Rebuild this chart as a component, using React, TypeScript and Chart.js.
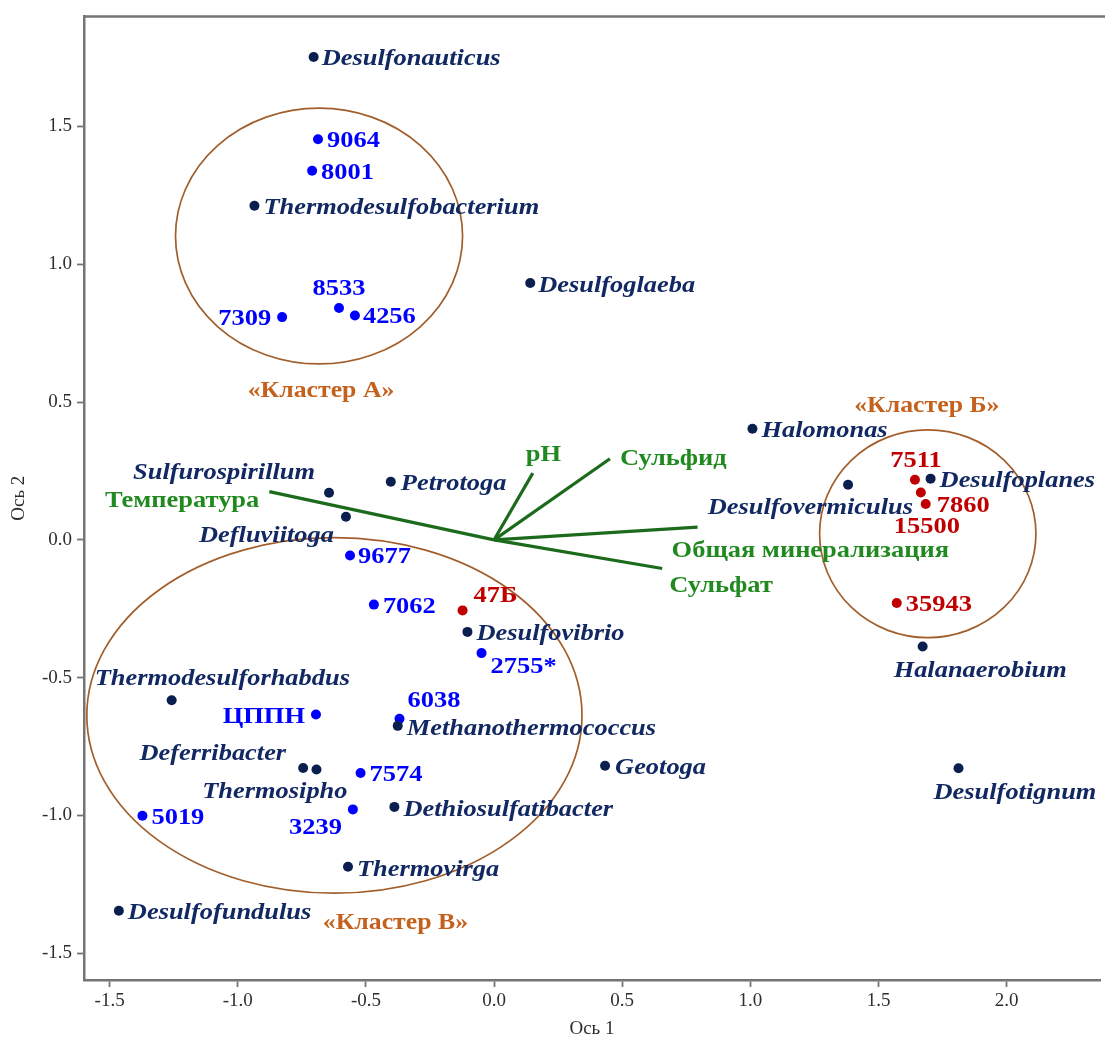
import { useEffect, useRef } from "react";
import { Chart, registerables } from "chart.js";

Chart.register(...registerables);

// Reference genera (ordination scores on axes 1 and 2)
const genusNames = [
  "Desulfonauticus", "Thermodesulfobacterium", "Desulfoglaeba", "Halomonas", "Desulfoplanes",
  "Desulfovermiculus", "Sulfurospirillum", "Petrotoga", "Defluviitoga", "Desulfovibrio",
  "Halanaerobium", "Thermodesulforhabdus", "Methanothermococcus", "Geotoga", "Deferribacter",
  "Thermosipho", "Desulfotignum", "Dethiosulfatibacter", "Thermovirga", "Desulfofundulus",
];
const genusAxis1 = [
  -0.704, -0.935, 0.141, 1.008, 1.703,
  1.381, -0.644, -0.403, -0.578, -0.104,
  1.672, -1.258, -0.376, 0.433, -0.745,
  -0.693, 1.812, -0.389, -0.570, -1.464,
];
const genusAxis2 = [
  1.752, 1.212, 0.932, 0.403, 0.222,
  0.200, 0.171, 0.211, 0.084, -0.334,
  -0.387, -0.582, -0.675, -0.820, -0.828,
  -0.833, -0.829, -0.969, -1.186, -1.346,
];

// Samples (blue)
const sampleNames = ["9064", "8001", "8533", "4256", "7309", "9677", "7062", "2755*", "6038", "ЦППН", "7574", "3239", "5019"];
const sampleAxis1 = [-0.687, -0.710, -0.605, -0.543, -0.827, -0.562, -0.469, -0.049, -0.369, -0.695, -0.521, -0.551, -1.372];
const sampleAxis2 = [1.453, 1.339, 0.841, 0.814, 0.808, -0.057, -0.235, -0.411, -0.649, -0.634, -0.846, -0.978, -1.001];

// Samples (red)
const brineNames = ["47Б", "7511", "15500", "7860", "35943"];
const brineAxis1 = [-0.123, 1.642, 1.665, 1.684, 1.571];
const brineAxis2 = [-0.256, 0.218, 0.172, 0.130, -0.229];

// Environmental factor vectors
const factorNames = ["Температура", "pH", "Сульфид", "Общая минерализация", "Сульфат"];
const factorAxis1 = [-0.877, 0.151, 0.452, 0.794, 0.656];
const factorAxis2 = [0.175, 0.242, 0.294, 0.046, -0.104];

// Cluster outlines (centre and radii in axis units)
const clusterNames = ["«Кластер А»", "«Кластер Б»", "«Кластер В»"];
const clusterCenter1 = [-0.683, 1.692, -0.623];
const clusterCenter2 = [1.102, 0.022, -0.637];
const clusterRadius1 = [0.560, 0.422, 0.966];
const clusterRadius2 = [0.464, 0.377, 0.645];

// Axis ticks
const xTickValues = [-1.5, -1.0, -0.5, 0.0, 0.5, 1.0, 1.5, 2.0];
const yTickValues = [-1.5, -1.0, -0.5, 0.0, 0.5, 1.0, 1.5];
const xTitle = "Ось 1";
const yTitle = "Ось 2";

// ---- styling ----
const SERIF = '"Liberation Serif", "Times New Roman", serif';
const NAVY_DOT = "#0b1f4e";
const NAVY_TEXT = "#112862";
const BLUE = "#0000ff";
const RED = "#c00000";
const GREEN_TEXT = "#208a20";
const GREEN_LINE = "#1c6b1c";
const ORANGE = "#c4611c";
const ELLIPSE = "#a15e2a";
const AXIS = "#747474";
const TICK_TEXT = "#2e2e2e";

type Place = [number, number, CanvasTextAlign];

// label offsets in pixels from the marker: [dx, dy, align]
const genusPlace: Record<string, Place> = {
  Desulfonauticus: [8, 0, "left"],
  Thermodesulfobacterium: [9, 0, "left"],
  Desulfoglaeba: [8, 1, "left"],
  Halomonas: [9, 0, "left"],
  Desulfoplanes: [9, 0, "left"],
  Desulfovermiculus: [65, 21, "right"],
  Sulfurospirillum: [-14, -22, "right"],
  Petrotoga: [10, 0, "left"],
  Defluviitoga: [-12, 17, "right"],
  Desulfovibrio: [9, 0, "left"],
  Halanaerobium: [-29, 22, "left"],
  Thermodesulforhabdus: [-77, -23, "left"],
  Methanothermococcus: [9, 1, "left"],
  Geotoga: [10, 0, "left"],
  Deferribacter: [-17, -16, "right"],
  Thermosipho: [31, 20, "right"],
  Desulfotignum: [-25, 22, "left"],
  Dethiosulfatibacter: [9, 1, "left"],
  Thermovirga: [9, 1, "left"],
  Desulfofundulus: [9, 0, "left"],
};
const samplePlace: Record<string, Place> = {
  "9064": [9, 0, "left"],
  "8001": [9, 0, "left"],
  "8533": [0, -21, "center"],
  "4256": [8, 0, "left"],
  "7309": [-11, 0, "right"],
  "9677": [8, 0, "left"],
  "7062": [9, 0, "left"],
  "2755*": [9, 12, "left"],
  "6038": [8, -20, "left"],
  "ЦППН": [-11, 0, "right"],
  "7574": [9, 0, "left"],
  "3239": [-11, 17, "right"],
  "5019": [9, 0, "left"],
};
const brinePlace: Record<string, Place> = {
  "47Б": [11, -16, "left"],
  "7511": [1, -21, "center"],
  "15500": [6, 33, "center"],
  "7860": [11, 0, "left"],
  "35943": [9, 0, "left"],
};
const factorPlace: Record<string, Place> = {
  "Температура": [-10, 7, "right"],
  pH: [-7, -20, "left"],
  "Сульфид": [10, -2, "left"],
  "Общая минерализация": [-26, 22, "left"],
  "Сульфат": [7, 16, "left"],
};
// cluster captions relative to the ellipse centre
const clusterPlace: Record<string, [number, number]> = {
  "«Кластер А»": [2, 153],
  "«Кластер Б»": [-1, -130],
  "«Кластер В»": [61, 206],
};

const pts = (xs: number[], ys: number[]) => xs.map((x, i) => ({ x, y: ys[i] }));

// visual centring of the glyphs relative to the em box
const TEXT_SHIFT = 2;

function drawLabel(
  ctx: CanvasRenderingContext2D,
  text: string,
  x: number,
  y: number,
  font: string,
  color: string,
  align: CanvasTextAlign,
  stretch: number
) {
  ctx.save();
  ctx.translate(x, y + TEXT_SHIFT);
  ctx.scale(stretch, 1);
  ctx.font = font;
  ctx.fillStyle = color;
  ctx.textAlign = align;
  ctx.textBaseline = "middle";
  ctx.fillText(text, 0, 0);
  ctx.restore();
}

const annotations = {
  id: "ordinationAnnotations",
  beforeDatasetsDraw(chart: any) {
    const { ctx, scales } = chart;
    const xs = scales.x;
    const ys = scales.y;
    ctx.save();
    ctx.strokeStyle = ELLIPSE;
    ctx.lineWidth = 1.7;
    clusterNames.forEach((_, i) => {
      const cx = xs.getPixelForValue(clusterCenter1[i]);
      const cy = ys.getPixelForValue(clusterCenter2[i]);
      const rx = Math.abs(xs.getPixelForValue(clusterCenter1[i] + clusterRadius1[i]) - cx);
      const ry = Math.abs(ys.getPixelForValue(clusterCenter2[i] + clusterRadius2[i]) - cy);
      ctx.beginPath();
      ctx.ellipse(cx, cy, rx, ry, 0, 0, Math.PI * 2);
      ctx.stroke();
    });
    ctx.restore();
  },
  afterDatasetsDraw(chart: any) {
    const { ctx, scales, chartArea } = chart;
    const xs = scales.x;
    const ys = scales.y;

    const labelSet = (
      names: string[],
      a1: number[],
      a2: number[],
      place: Record<string, Place>,
      font: string,
      color: string,
      stretch: number
    ) => {
      names.forEach((name, i) => {
        const px = xs.getPixelForValue(a1[i]);
        const py = ys.getPixelForValue(a2[i]);
        const [dx, dy, align] = place[name];
        drawLabel(ctx, name, px + dx, py + dy, font, color, align, stretch);
      });
    };

    labelSet(genusNames, genusAxis1, genusAxis2, genusPlace, `italic bold 24px ${SERIF}`, NAVY_TEXT, 1.1);
    labelSet(sampleNames, sampleAxis1, sampleAxis2, samplePlace, `bold 23px ${SERIF}`, BLUE, 1.15);
    labelSet(brineNames, brineAxis1, brineAxis2, brinePlace, `bold 23px ${SERIF}`, RED, 1.15);
    labelSet(factorNames, factorAxis1, factorAxis2, factorPlace, `bold 23px ${SERIF}`, GREEN_TEXT, 1.15);

    clusterNames.forEach((name, i) => {
      const cx = xs.getPixelForValue(clusterCenter1[i]);
      const cy = ys.getPixelForValue(clusterCenter2[i]);
      const [dx, dy] = clusterPlace[name];
      drawLabel(ctx, name, cx + dx, cy + dy, `bold 23px ${SERIF}`, ORANGE, "center", 1.12);
    });

    // top frame line
    ctx.save();
    ctx.strokeStyle = AXIS;
    ctx.lineWidth = 2.5;
    ctx.beginPath();
    ctx.moveTo(chartArea.left - 1, chartArea.top);
    ctx.lineTo(chart.width, chartArea.top);
    ctx.stroke();
    ctx.restore();
  },
};

export default function App() {
  const canvasRef = useRef<HTMLCanvasElement | null>(null);

  useEffect(() => {
    if (!canvasRef.current) return;

    const vectorSets = factorNames.map((name, i) => ({
      label: name,
      data: [
        { x: 0, y: 0 },
        { x: factorAxis1[i], y: factorAxis2[i] },
      ],
      showLine: true,
      borderColor: GREEN_LINE,
      borderWidth: 3.2,
      pointRadius: 0,
      fill: false,
    }));

    const chart = new Chart(canvasRef.current, {
      type: "scatter",
      data: {
        datasets: [
          ...vectorSets,
          {
            label: "genera",
            data: pts(genusAxis1, genusAxis2),
            backgroundColor: NAVY_DOT,
            borderWidth: 0,
            pointRadius: 5,
          },
          {
            label: "samples",
            data: pts(sampleAxis1, sampleAxis2),
            backgroundColor: BLUE,
            borderWidth: 0,
            pointRadius: 5,
          },
          {
            label: "brine",
            data: pts(brineAxis1, brineAxis2),
            backgroundColor: RED,
            borderWidth: 0,
            pointRadius: 5,
          },
        ] as any,
      },
      options: {
        animation: false,
        responsive: false,
        events: [],
        layout: { padding: { top: 15, right: 1, left: 0, bottom: 0 } },
        plugins: {
          legend: { display: false },
          tooltip: { enabled: false },
        },
        scales: {
          x: {
            type: "linear",
            min: -1.6,
            max: 2.364,
            afterBuildTicks: (s: any) => {
              s.ticks = xTickValues.map((v) => ({ value: v }));
            },
            afterFit: (s: any) => {
              s.height = 59;
            },
            ticks: {
              color: TICK_TEXT,
              font: { family: SERIF, size: 19 },
              padding: 3,
              callback: (v: any) => Number(v).toFixed(1),
            },
            grid: {
              display: true,
              drawOnChartArea: false,
              drawTicks: true,
              tickLength: 7,
              tickWidth: 1.8,
              color: AXIS,
            },
            border: { display: true, color: AXIS, width: 2.5 },
            title: {
              display: true,
              text: xTitle,
              color: TICK_TEXT,
              font: { family: SERIF, size: 19, lineHeight: 1 },
              padding: { top: 0, bottom: 0 },
            },
          },
          y: {
            type: "linear",
            min: -1.597,
            max: 1.899,
            afterBuildTicks: (s: any) => {
              s.ticks = yTickValues.map((v) => ({ value: v }));
            },
            afterFit: (s: any) => {
              s.width = 84;
            },
            ticks: {
              color: TICK_TEXT,
              font: { family: SERIF, size: 19 },
              padding: 5,
              callback: (v: any) => Number(v).toFixed(1),
            },
            grid: {
              display: true,
              drawOnChartArea: false,
              drawTicks: true,
              tickLength: 7,
              tickWidth: 1.8,
              color: AXIS,
            },
            border: { display: true, color: AXIS, width: 2.5 },
            title: {
              display: true,
              text: yTitle,
              color: TICK_TEXT,
              font: { family: SERIF, size: 19 },
              padding: { top: 8, bottom: 0 },
            },
          },
        },
      },
      plugins: [annotations],
    });

    return () => chart.destroy();
  }, []);

  return (
    <div style={{ position: "absolute", left: 0, top: 0, width: 1105, height: 1039, background: "#ffffff" }}>
      <canvas ref={canvasRef} width={1105} height={1039} />
    </div>
  );
}
